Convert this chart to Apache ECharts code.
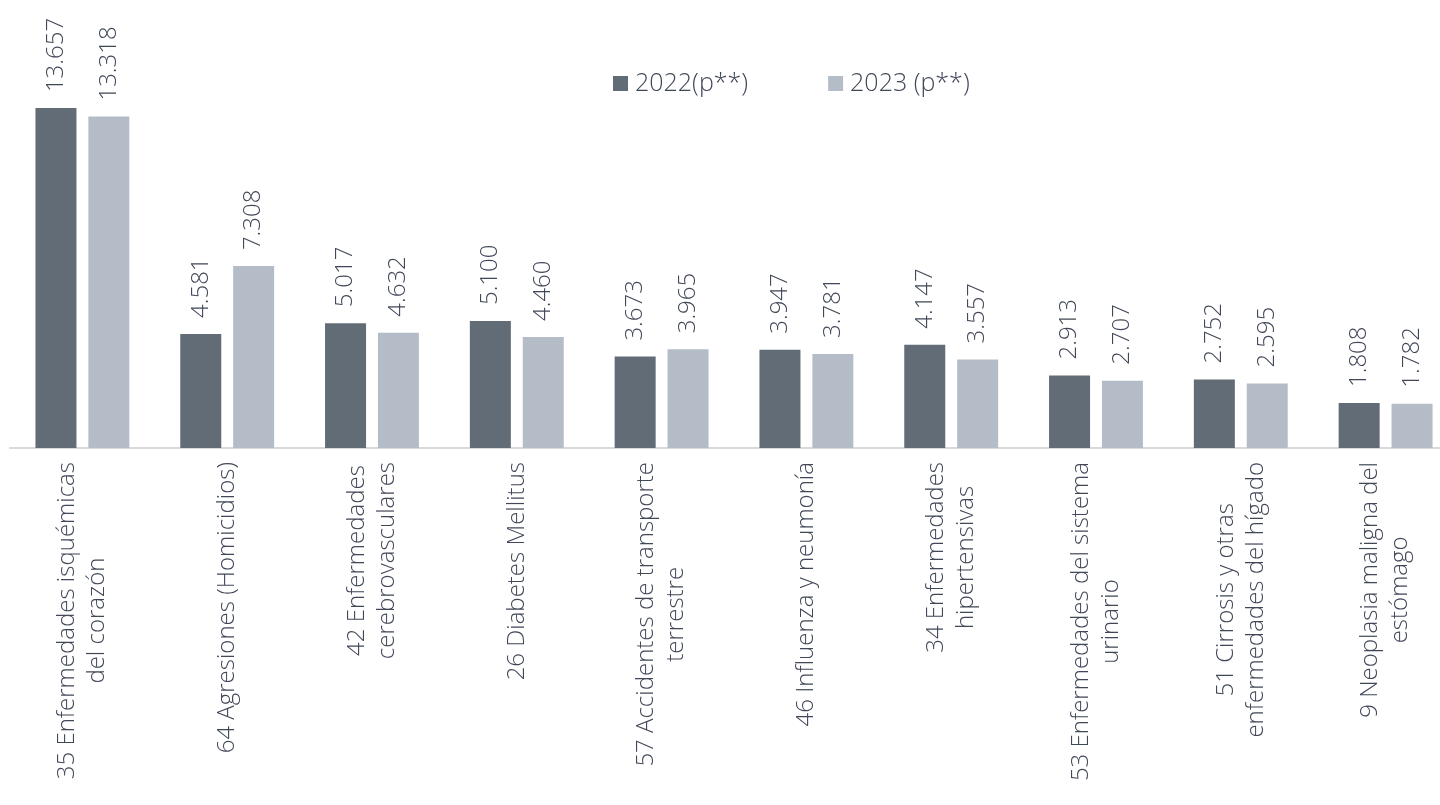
<!DOCTYPE html>
<html>
<head>
<meta charset="utf-8">
<script src="https://cdn.jsdelivr.net/npm/echarts@6/dist/echarts.min.js"></script>
<style>
html,body{margin:0;padding:0;background:#fff;}
#chart{width:1440px;height:805px;}
</style>
</head>
<body>
<div id="chart"></div>
<script>
const categories = [
  "35 Enfermedades isquémicas\ndel corazón",
  "64 Agresiones (Homicidios)",
  "42 Enfermedades\ncerebrovasculares",
  "26 Diabetes Mellitus",
  "57 Accidentes de transporte\nterrestre",
  "46 Influenza y neumonía",
  "34 Enfermedades\nhipertensivas",
  "53 Enfermedades del sistema\nurinario",
  "51 Cirrosis y otras\nenfermedades del hígado",
  "9 Neoplasia maligna del\nestómago"
];
const seriesNames = ["2022(p**)", "2023 (p**)"];
const values2022 = [13657, 4581, 5017, 5100, 3673, 3947, 4147, 2913, 2752, 1808];
const values2023 = [13318, 7308, 4632, 4460, 3965, 3781, 3557, 2707, 2595, 1782];

const FONT = "'Open Sans', sans-serif";
const WEIGHT = 300;
const TEXT = "#404757";
const CAT_SIZE = 24;
const CAT_MARGIN = 14;
const fmt = v => String(v).replace(/\B(?=(\d{3})+(?!\d))/g, ".");

// width of the widest line of a category label (to place its block under the axis)
const ctx = document.createElement("canvas").getContext("2d");
ctx.font = WEIGHT + " " + CAT_SIZE + "px 'Open Sans'";
const blockWidth = c => Math.max(...c.split("\n").map(s => ctx.measureText(s).width));

const labelCfg = {
  show: true,
  position: "top",
  rotate: 90,
  align: "left",
  verticalAlign: "middle",
  distance: 16,
  fontFamily: FONT,
  fontWeight: WEIGHT,
  fontSize: 24,
  color: TEXT,
  formatter: p => fmt(p.value)
};

const chart = echarts.init(document.getElementById("chart"), null, {renderer: "canvas"});
chart.setOption({
  animation: false,
  backgroundColor: "#ffffff",
  legend: {
    data: seriesNames,
    left: 608,
    top: 66,
    icon: "rect",
    itemWidth: 15,
    itemHeight: 15,
    itemGap: 80,
    textStyle: {fontFamily: FONT, fontWeight: WEIGHT, fontSize: 25, color: TEXT, padding: [0, 0, 0, 2]}
  },
  grid: {left: 10, top: 0, right: -18, bottom: 357, containLabel: false, outerBoundsMode: "none"},
  xAxis: {
    type: "category",
    data: categories,
    axisLine: {show: true, lineStyle: {color: "#d9d9d9", width: 2}},
    axisTick: {show: false},
    axisLabel: {show: false}
  },
  yAxis: {
    type: "value",
    min: 0,
    max: 18000,
    show: false,
    splitLine: {show: false}
  },
  series: [
    {
      name: seriesNames[0],
      type: "bar",
      data: values2022,
      barWidth: 41,
      barGap: "29%",
      itemStyle: {color: "#626c76"},
      label: labelCfg
    },
    {
      name: seriesNames[1],
      type: "bar",
      data: values2023,
      barWidth: 41,
      itemStyle: {color: "#b4bdc7"},
      label: labelCfg
    },
    {
      // category labels: rotated, lines centred on each other, block starting just below the axis
      name: "categoryLabels",
      type: "custom",
      silent: true,
      clip: false,
      data: categories.map((c, i) => [i, 0]),
      renderItem: (params, api) => {
        const i = api.value(0);
        const p = api.coord([i, 0]);
        const text = categories[i];
        return {
          type: "text",
          x: p[0],
          y: p[1] + CAT_MARGIN + blockWidth(text) / 2,
          rotation: Math.PI / 2,
          style: {
            text: text,
            align: "center",
            verticalAlign: "middle",
            fontFamily: FONT,
            fontWeight: WEIGHT,
            fontSize: CAT_SIZE,
            lineHeight: 30,
            fill: TEXT
          }
        };
      }
    }
  ]
});
</script>
</body>
</html>
